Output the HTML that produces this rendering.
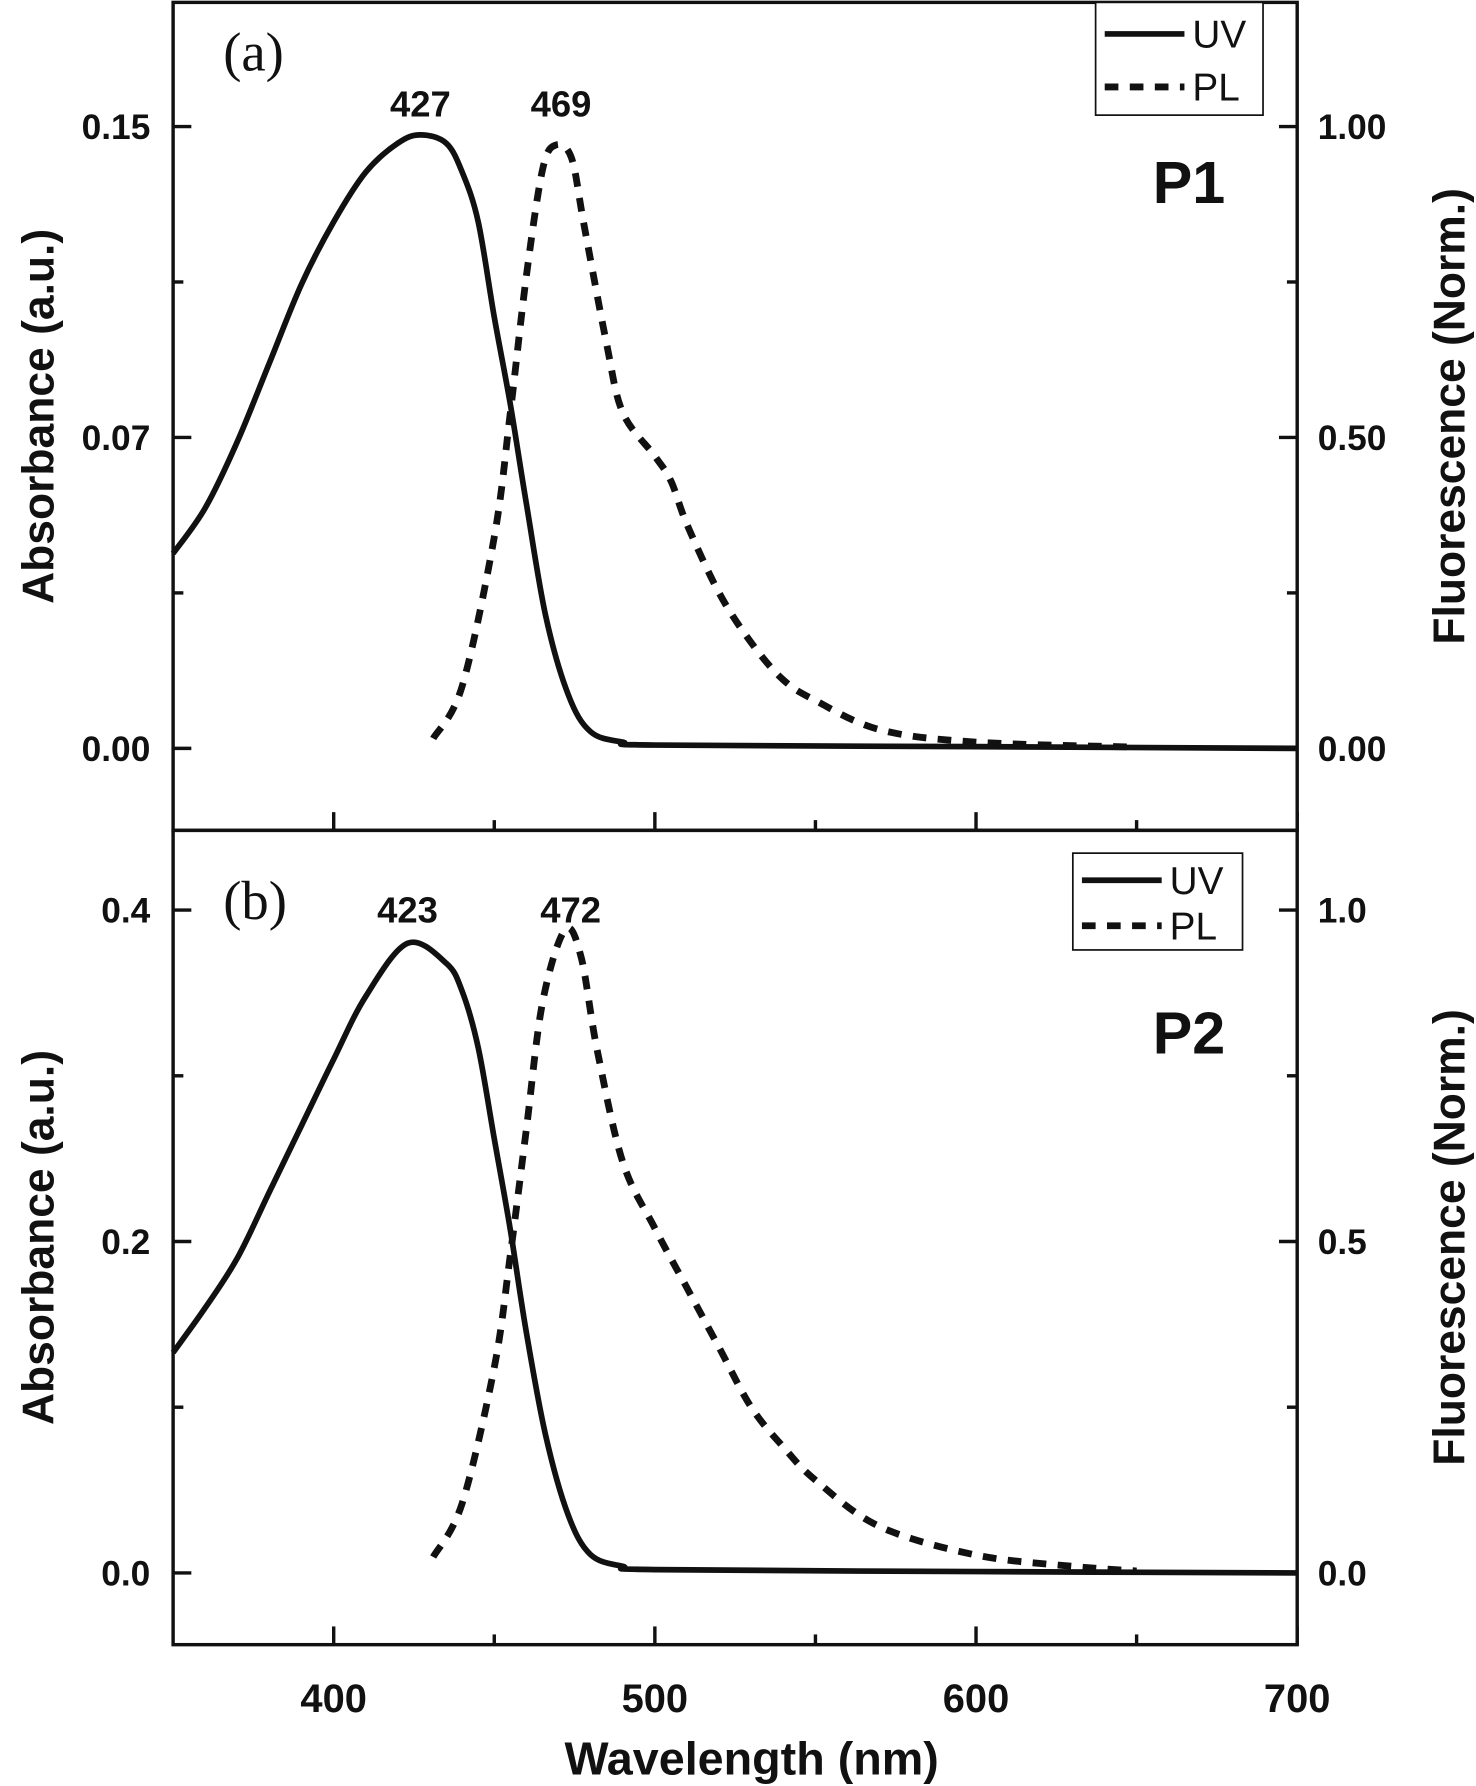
<!DOCTYPE html>
<html><head><meta charset="utf-8"><style>
html,body{margin:0;padding:0;background:#fff}
svg{display:block}
text{font-family:"Liberation Sans",Arial,sans-serif;font-weight:bold;fill:#111}
</style></head><body>
<svg id="chart" width="1476" height="1786" viewBox="0 0 1296 1568" xmlns="http://www.w3.org/2000/svg">
<g id="g"></g>
</svg>
<script>
const xTicks=[400,500,600,700];
const p1UvX=[350,360,370,380,390,400,410,420,427,435,440,445,450,455,460,466,473,480,490,500,600,700];
const p1UvY=[0.047,0.058,0.074,0.093,0.112,0.127,0.139,0.146,0.148,0.146,0.139,0.127,0.104,0.083,0.059,0.032,0.013,0.004,0.0015,0.0008,0.0004,0];
const p1PlX=[431,440,450,455,460,465,469,474,478,485,490,500,505,510,520,530,540,550,570,600,650];
const p1PlY=[0.016,0.10,0.34,0.54,0.76,0.93,0.97,0.95,0.84,0.65,0.54,0.47,0.43,0.36,0.25,0.17,0.11,0.077,0.03,0.01,0.002];
const p2UvX=[350,360,370,380,390,400,410,423,435,440,445,450,455,460,466,473,480,490,500,600,700];
const p2UvY=[0.133,0.16,0.19,0.23,0.27,0.31,0.348,0.380,0.368,0.351,0.317,0.262,0.207,0.145,0.083,0.035,0.011,0.004,0.002,0.0008,0];
const p2PlX=[431,440,450,455,460,465,472,477,482,490,500,510,520,530,540,550,570,600,630,650];
const p2PlY=[0.024,0.105,0.31,0.48,0.67,0.86,0.97,0.93,0.79,0.62,0.52,0.43,0.34,0.25,0.19,0.14,0.07,0.027,0.01,0.003];
const topLeftTicks=[0,0.075,0.15], topLeftLabels=["0.00","0.07","0.15"];
const topRightTicks=[0,0.5,1], topRightLabels=["0.00","0.50","1.00"];
const botLeftTicks=[0,0.2,0.4], botLeftLabels=["0.0","0.2","0.4"];
const botRightTicks=[0,0.5,1], botRightLabels=["0.0","0.5","1.0"];

const NS="http://www.w3.org/2000/svg", G=document.getElementById('g');
function el(t,a,txt){const e=document.createElementNS(NS,t);for(const k in a)e.setAttribute(k,a[k]);if(txt!==undefined)e.textContent=txt;G.appendChild(e);return e;}
const L=152,R=1139;
const xs=v=>L+(v-350)/350*(R-L);
function lin(v0,p0,v1,p1){return v=>p0+(v-v0)/(v1-v0)*(p1-p0);}
function smooth(pts){
  let d='M'+pts[0][0].toFixed(1)+','+pts[0][1].toFixed(1);
  for(let i=0;i<pts.length-1;i++){
    const p0=pts[Math.max(0,i-1)],p1=pts[i],p2=pts[i+1],p3=pts[Math.min(pts.length-1,i+2)];
    const c1x=p1[0]+(p2[0]-p0[0])/6,c1y=p1[1]+(p2[1]-p0[1])/6;
    const c2x=p2[0]-(p3[0]-p1[0])/6,c2y=p2[1]-(p3[1]-p1[1])/6;
    d+='C'+c1x.toFixed(1)+','+c1y.toFixed(1)+' '+c2x.toFixed(1)+','+c2y.toFixed(1)+' '+p2[0].toFixed(1)+','+p2[1].toFixed(1);
  }
  return d;
}
const p=[
 {top:2,bot:729,yl:lin(0,657,0.15,111),yr:lin(0,657,1,111),lt:topLeftTicks,ll:topLeftLabels,rt:topRightTicks,rl:topRightLabels,lminor:[0.0375,0.1125],rminor:[0.25,0.75],
  uvX:p1UvX,uvY:p1UvY,plX:p1PlX,plY:p1PlY,tag:"(a)",name:"P1",pk1:"427",pk1x:427,pk2:"469",pk2x:469,lab:"p1",lg:[962,2,1109,101],tagY:62,pkY:102,nameY:178},
 {top:729,bot:1444,yl:lin(0,1381,0.4,799),yr:lin(0,1381,1,799),lt:botLeftTicks,ll:botLeftLabels,rt:botRightTicks,rl:botRightLabels,lminor:[0.1,0.3],rminor:[0.25,0.75],
  uvX:p2UvX,uvY:p2UvY,plX:p2PlX,plY:p2PlY,tag:"(b)",name:"P2",pk1:"423",pk1x:423,pk2:"472",pk2x:472,lab:"p2",lg:[942,749,1091,834],tagY:807,pkY:810,nameY:925}
];
p.forEach((q,i)=>{
  let e;
  e=el('rect',{x:L,y:q.top,width:R-L,height:q.bot-q.top,fill:'none',stroke:'#111','stroke-width':3});
  
  
  xTicks.forEach(v=>{el('line',{x1:xs(v),x2:xs(v),y1:q.bot,y2:q.bot-16,stroke:'#111','stroke-width':3});});
  [450,550,650].forEach(v=>{el('line',{x1:xs(v),x2:xs(v),y1:q.bot,y2:q.bot-9,stroke:'#111','stroke-width':3});});
  q.lt.forEach((v,j)=>{
    el('line',{x1:L,x2:L+16,y1:q.yl(v),y2:q.yl(v),stroke:'#111','stroke-width':3});
    e=el('text',{x:L-20,y:q.yl(v)+11,'text-anchor':'end','font-size':31},q.ll[j]);
    
    
  });
  q.lminor.forEach(v=>el('line',{x1:L,x2:L+9,y1:q.yl(v),y2:q.yl(v),stroke:'#111','stroke-width':3}));
  q.rt.forEach((v,j)=>{
    el('line',{x1:R,x2:R-16,y1:q.yr(v),y2:q.yr(v),stroke:'#111','stroke-width':3});
    e=el('text',{x:R+18,y:q.yr(v)+11,'font-size':31},q.rl[j]);
    
    
  });
  q.rminor.forEach(v=>el('line',{x1:R,x2:R-9,y1:q.yr(v),y2:q.yr(v),stroke:'#111','stroke-width':3}));
  const mid=(q.top+q.bot)/2;
  e=el('text',{x:0,y:0,'font-size':39,'text-anchor':'middle',transform:`translate(47,${mid}) rotate(-90)`},'Absorbance (a.u.)');
  
  
  e=el('text',{x:0,y:0,'font-size':39,'text-anchor':'middle',transform:`translate(1286,${mid}) rotate(-90)`},'Fluorescence (Norm.)');
  
  
  let pts=q.uvX.map((x,j)=>[xs(x),q.yl(q.uvY[j])]);
  e=el('path',{d:smooth(pts),fill:'none',stroke:'#111','stroke-width':5,'stroke-linejoin':'round'});
  
  
  pts=q.plX.map((x,j)=>[xs(x),q.yr(q.plY[j])]);
  e=el('path',{d:smooth(pts),fill:'none',stroke:'#111','stroke-width':6,'stroke-dasharray':'12 10'});
  
  
  e=el('text',{x:196,y:q.tagY,'font-size':48,style:'font-family:"Liberation Serif",serif;font-weight:normal'},q.tag);
  
  
  e=el('text',{x:xs(q.pk1x),y:q.pkY,'font-size':32,'text-anchor':'middle'},q.pk1);
  
  
  e=el('text',{x:xs(q.pk2x)+5,y:q.pkY,'font-size':32,'text-anchor':'middle'},q.pk2);
  
  
  e=el('text',{x:1044,y:q.nameY,'font-size':52,'text-anchor':'middle'},q.name);
  
  
  const [a,b,c,dd]=q.lg, h=dd-b;
  e=el('rect',{x:a,y:b,width:c-a,height:h,fill:'#fff',stroke:'#111','stroke-width':1.5});
  
  
  el('line',{x1:a+8,x2:a+78,y1:b+h*0.28,y2:b+h*0.28,stroke:'#111','stroke-width':5});
  el('line',{x1:a+8,x2:a+78,y1:b+h*0.75,y2:b+h*0.75,stroke:'#111','stroke-width':6,'stroke-dasharray':'12 10'});
  e=el('text',{x:a+85,y:b+h*0.28+12,'font-size':34,style:'font-weight:normal'},'UV');
  
  
  e=el('text',{x:a+85,y:b+h*0.75+12,'font-size':34,style:'font-weight:normal'},'PL');
  
  
});
xTicks.forEach(v=>{
  const e=el('text',{x:xs(v),y:1503,'font-size':35,'text-anchor':'middle'},String(v));
  
  
});
const xt=el('text',{x:660,y:1558,'font-size':41,'text-anchor':'middle'},'Wavelength (nm)');


</script>
</body></html>
